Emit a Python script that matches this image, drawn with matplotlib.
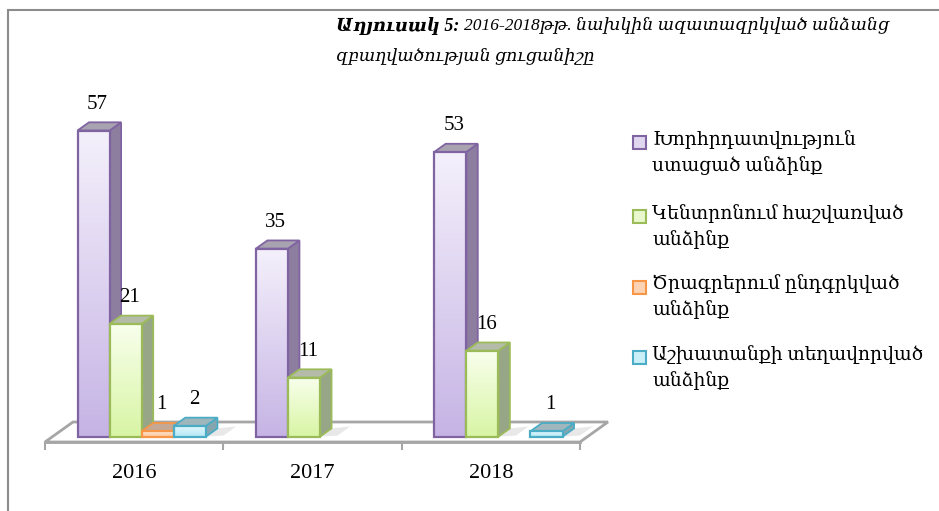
import numpy as np
import matplotlib
matplotlib.use('Agg')
import matplotlib.pyplot as plt
from matplotlib.patches import Polygon, Rectangle
from matplotlib.colors import LinearSegmentedColormap

plt.rcParams['font.family'] = ['Liberation Serif', 'DejaVu Serif']

# data
years = ['2016', '2017', '2018']
series = [
    'Խորհրդատվություն\nստացած անձինք',
    'Կենտրոնում հաշվառված\nանձինք',
    'Ծրագրերում ընդգրկված\nանձինք',
    'Աշխատանքի տեղավորված\nանձինք',
]
counseled = [57, 35, 53]
registered = [21, 11, 16]
in_programs = [1, 0, 0]
employed = [2, 0, 1]
values = [counseled, registered, in_programs, employed]

# styles: (front top, front bottom, side, top, edge)
styles = [
    ('#f4f0fb', '#c6b4e5', '#8d7d9f', '#a9a2b1', '#8064a2'),
    ('#f8ffec', '#d8f5a4', '#98a688', '#b5bba9', '#9bbb59'),
    ('#fee6d4', '#fbc498', '#b39a88', '#c4a893', '#f79646'),
    ('#e2f7fc', '#b2e8f6', '#86a5ae', '#9fb6bd', '#4bacc6'),
]

W, H = 939, 511
fig = plt.figure(figsize=(W / 100, H / 100), dpi=100)

# plot area: front floor edge from x=45 to 580 px, at y=442 px from top
px_unit = 5.37
ymax = 60
ax = fig.add_axes([45 / W, (H - 442) / H, 535 / W, ymax * px_unit / H])
ax.set_xlim(-0.5, 2.5)
ax.set_ylim(0, ymax)

# 3D depth of the floor in data units
DX = 28 / (535 / 3)
DY = 20 / px_unit
zf, zb = 0.27, 0.68
bw = 0.18
gap = (1 - 4 * bw) / 2


def P(x, v, z):
    return (x + z * DX, v + z * DY)


# floor
floor = Polygon([P(-0.5, 0, 0), P(2.5, 0, 0), P(2.5, 0, 1), P(-0.5, 0, 1)],
                closed=True, facecolor='white', edgecolor='#a6a6a6', lw=2,
                clip_on=False, zorder=1)
ax.add_patch(floor)

z = 2
for i in range(len(years)):
    for j, vals in enumerate(values):
        v = vals[i]
        if v == 0:
            continue
        ft, fb, side_c, top_c, edge = styles[j]
        x0 = i - 0.5 + gap + j * bw
        x1 = x0 + bw
        # floor shadow
        sh = Polygon([P(x1, 0, zf), P(x1 + 0.09, 0, zf + 0.05), P(x1 + 0.09, 0, zb + 0.1), P(x1, 0, zb)],
                     closed=True, facecolor='#d9d9d9', edgecolor='none', alpha=0.6,
                     clip_on=False, zorder=z)
        ax.add_patch(sh)
        z += 1
        side = Polygon([P(x1, 0, zf), P(x1, 0, zb), P(x1, v, zb), P(x1, v, zf)],
                       closed=True, facecolor=side_c, edgecolor=edge, lw=1.3,
                       clip_on=False, zorder=z)
        top = Polygon([P(x0, v, zf), P(x1, v, zf), P(x1, v, zb), P(x0, v, zb)],
                      closed=True, facecolor=top_c, edgecolor=edge, lw=1.3,
                      clip_on=False, zorder=z)
        ax.add_patch(side)
        ax.add_patch(top)
        z += 1
        fx0, fy0 = P(x0, 0, zf)
        fx1, fy1 = P(x1, v, zf)
        front = Polygon([(fx0, fy0), (fx1, fy0), (fx1, fy1), (fx0, fy1)],
                        closed=True, facecolor='none', edgecolor=edge, lw=1.6,
                        clip_on=False, zorder=z + 1)
        ax.add_patch(front)
        cmap = LinearSegmentedColormap.from_list('g%d' % j, [fb, ft])
        grad = np.linspace(0, 1, 100).reshape(-1, 1)
        im = ax.imshow(grad, extent=[fx0, fx1, fy0, fy1], origin='lower',
                       cmap=cmap, aspect='auto', zorder=z, interpolation='bilinear')
        im.set_clip_path(front)
        z += 2
        ax.annotate(str(v), xy=((fx0 + fx1) / 2 + 0.35 * (zb - zf) * DX, fy1),
                    xytext=(0, 19), textcoords='offset points',
                    ha='center', va='center', fontsize=15, zorder=50,
                    annotation_clip=False)

ax.set_xlim(-0.5, 2.5)
ax.set_ylim(0, ymax)

for s in ['top', 'right', 'left']:
    ax.spines[s].set_visible(False)
ax.spines['bottom'].set_color('#a6a6a6')
ax.spines['bottom'].set_linewidth(2)
ax.spines['bottom'].set_zorder(1.5)
ax.patch.set_visible(False)
ax.set_yticks([])
ax.set_xticks([-0.5, 0.5, 1.5, 2.5])
ax.set_xticklabels([])
ax.set_xticks(range(len(years)), minor=True)
ax.set_xticklabels(years, minor=True, fontsize=16)
ax.tick_params(axis='x', which='major', length=6, width=1.5, color='#a6a6a6')
ax.tick_params(axis='x', which='minor', length=0, pad=16)

# frame (top and left edges visible)
fig.patches.append(Rectangle((8 / W, -0.1), 1.1, (H - 10) / H + 0.1,
                             transform=fig.transFigure, facecolor='none',
                             edgecolor='#8c8c8c', lw=1.5))

# title
r = fig.canvas.get_renderer()
t1 = fig.text(336 / W, 1 - 26 / H, 'Աղյուսակ 5:', fontsize=13, fontweight='bold',
              style='italic', va='center', ha='left')
bb = t1.get_window_extent(renderer=r)
fig.text(bb.x1 / W + 5 / W, 1 - 26 / H, '2016-2018թթ. նախկին ազատազրկված անձանց',
         fontsize=12.5, style='italic', va='center', ha='left')
fig.text(336 / W, 1 - 57 / H, 'զբաղվածության ցուցանիշը',
         fontsize=12.5, style='italic', va='center', ha='left')

# legend
leg_y = [143, 217, 287, 358]
marker_fc = ['#e0d6f0', '#e8f8cc', '#fcd3b4', '#caeff9']
for k, name in enumerate(series):
    y = 1 - leg_y[k] / H
    fig.patches.append(Rectangle((633 / W, y - 6.5 / H), 13 / W, 13 / H,
                                 transform=fig.transFigure, facecolor=marker_fc[k],
                                 edgecolor=styles[k][4], lw=1.5))
    fig.text(652 / W, y + 13 / H, name, fontsize=13.5, va='top', ha='left',
             linespacing=1.5)

fig.savefig('out.png', dpi=100)
